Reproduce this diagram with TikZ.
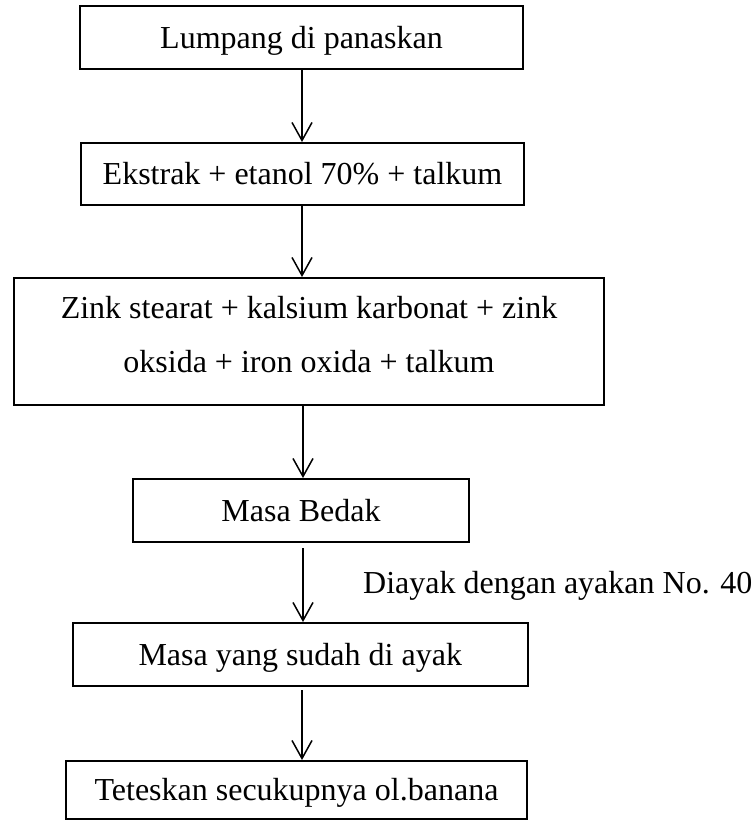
\documentclass[tikz,border=0pt]{standalone}
\usepackage{fontspec}
\setmainfont{Liberation Serif}
\usetikzlibrary{arrows.meta}
\begin{document}
\begin{tikzpicture}[x=1pt,y=-1pt,
  box/.style={draw, line width=2pt, inner sep=0pt, font=\fontsize{32}{54}\selectfont,
    text height=21pt, text depth=0pt},
  flow/.style={line width=1.5pt, -{Straight Barb[length=18pt,width=20pt,line width=1.5pt]}},
  lbl/.style={inner sep=0pt, font=\fontsize{32}{38}\selectfont}]
\useasboundingbox (0,0) rectangle (754,822);
\node[box, minimum width=443pt, minimum height=63pt] (b1) at (301.5,37.5) {Lumpang di panaskan};
\node[box, minimum width=443pt, minimum height=62pt] (b2) at (302.5,174) {Ekstrak + etanol 70\% + talkum};
\node[box, minimum width=590.5pt, minimum height=127pt, align=center, text height=61pt, text depth=0pt] (b3) at (309,341.5) {Zink stearat + kalsium karbonat + zink\\oksida + iron oxida + talkum};
\node[box, minimum width=336pt, minimum height=63pt] (b4) at (301,510.5) {Masa Bedak};
\node[box, minimum width=455.5pt, minimum height=63pt] (b5) at (300.25,654.5) {Masa yang sudah di ayak};
\node[box, minimum width=461pt, minimum height=58pt] (b6) at (296.5,790) {Teteskan secukupnya ol.banana};
\draw[flow] (b1.south -| 302,0) -- (b2.north -| 302,0);
\draw[flow] (b2.south -| 302,0) -- (b3.north -| 302,0);
\draw[flow] (b3.south -| 303,0) -- (b4.north -| 303,0);
\draw[flow] ([yshift=-5pt]b4.south -| 303,0) -- (b5.north -| 303,0);
\draw[flow] ([yshift=-3pt]b5.south -| 302,0) -- (b6.north -| 302,0);
\node[lbl, anchor=base west] (l1) at (363,593) {Diayak dengan ayakan No. 40};
\end{tikzpicture}
\end{document}
